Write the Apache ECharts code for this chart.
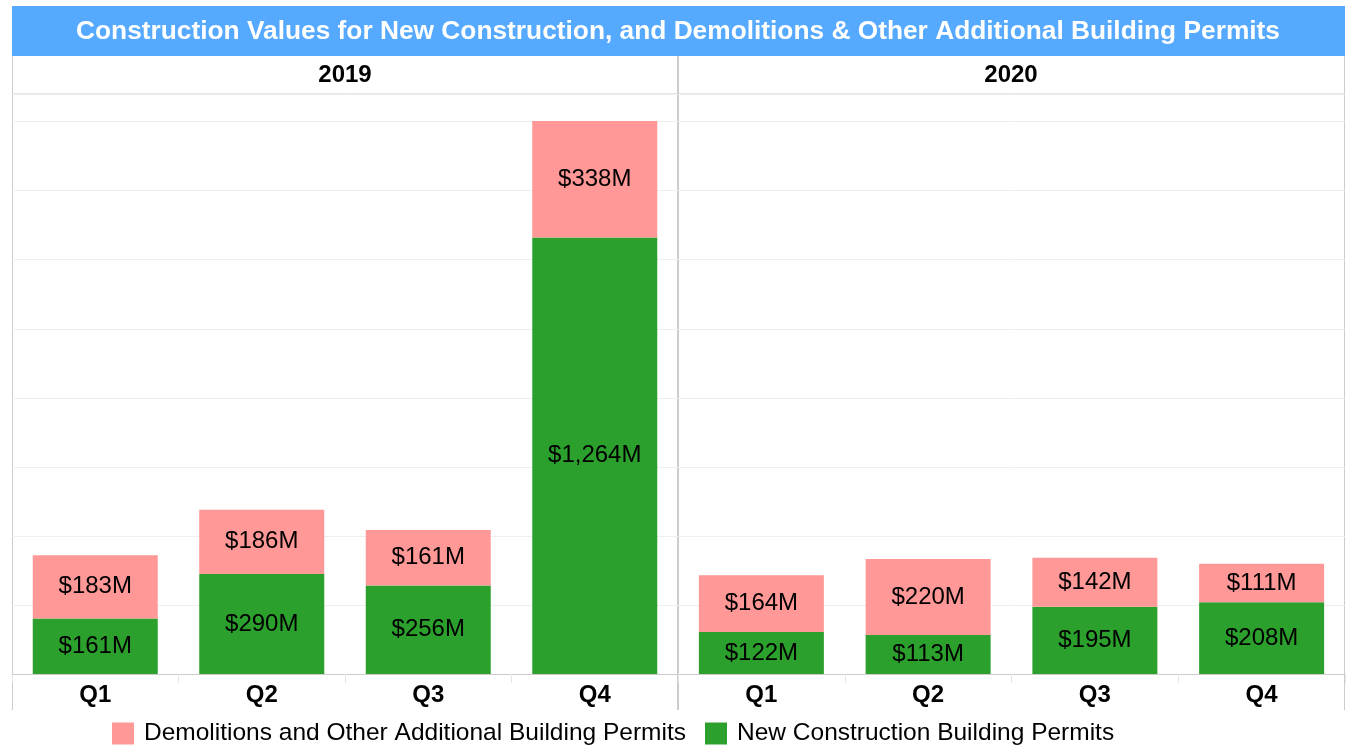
<!DOCTYPE html>
<html>
<head>
<meta charset="utf-8">
<title>Construction Values</title>
<script src="https://cdn.jsdelivr.net/npm/echarts@6/dist/echarts.min.js"></script>
<style>
  html, body { margin: 0; padding: 0; background: #fff; }
  #chart { width: 1349px; height: 748px; }
</style>
</head>
<body>
<div id="chart"></div>
<script>
const FONT = "'Liberation Sans', Arial, sans-serif";

const quarters = ["Q1", "Q2", "Q3", "Q4"];
const years = ["2019", "2020"];
const newConstruction2019 = [161, 290, 256, 1264];
const demolitions2019 = [183, 186, 161, 338];
const newConstruction2020 = [122, 113, 195, 208];
const demolitions2020 = [164, 220, 142, 111];

const NEW_NAME = "New Construction Building Permits";
const DEMO_NAME = "Demolitions and Other Additional Building Permits";
const GREEN = "#2ca02c";
const PINK = "#ff9896";
const LINE = "#cccccc";

const fmtMoney = (p) => "$" + p.value.toLocaleString("en-US") + "M";

const barLabel = {
  show: true,
  position: "inside",
  color: "#000",
  fontFamily: FONT,
  fontSize: 24,
  formatter: fmtMoney,
};

const makeX = (gridIndex) => ({
  type: "category",
  gridIndex: gridIndex,
  data: quarters,
  axisLine: { lineStyle: { color: LINE, width: 1 } },
  axisTick: { show: true, length: 9, lineStyle: { color: "#e6e6e6" } },
  axisLabel: {
    color: "#000",
    fontFamily: FONT,
    fontSize: 24,
    fontWeight: "bold",
    margin: 9,
  },
});

const makeY = (gridIndex) => ({
  type: "value",
  gridIndex: gridIndex,
  min: 0,
  max: 1680,
  interval: 200,
  axisLabel: { show: false },
  axisLine: { show: false },
  axisTick: { show: false },
  splitLine: { lineStyle: { color: "#eeeeee", width: 1 } },
});

const makeBar = (name, data, idx, stack, color) => ({
  name: name,
  type: "bar",
  xAxisIndex: idx,
  yAxisIndex: idx,
  stack: stack,
  data: data,
  barWidth: 125,
  itemStyle: { color: color },
  label: barLabel,
  emphasis: { disabled: true },
});

const chart = echarts.init(document.getElementById("chart"));

const option = {
  animation: false,
  backgroundColor: "#fff",
  title: [
    {
      text: "Construction Values for New Construction, and Demolitions & Other Additional Building Permits",
      left: 678,
      top: 18,
      textAlign: "center",
      padding: 0,
      textStyle: { color: "#fff", fontFamily: FONT, fontSize: 26.3, fontWeight: "bold", lineHeight: 28 },
    },
    {
      text: years[0],
      left: 345,
      top: 63,
      textAlign: "center",
      padding: 0,
      textStyle: { color: "#000", fontFamily: FONT, fontSize: 24, fontWeight: "bold" },
    },
    {
      text: years[1],
      left: 1011,
      top: 63,
      textAlign: "center",
      padding: 0,
      textStyle: { color: "#000", fontFamily: FONT, fontSize: 24, fontWeight: "bold" },
    },
  ],
  legend: {
    data: [DEMO_NAME, NEW_NAME],
    left: 112,
    top: 721,
    padding: 0,
    icon: "rect",
    itemWidth: 22,
    itemHeight: 22,
    itemGap: 19,
    selectedMode: false,
    textStyle: {
      color: "#000",
      fontFamily: FONT,
      fontSize: 24.5,
      padding: [0, 0, 0, 5],
    },
  },
  grid: [
    { left: 12, top: 94, width: 666, height: 580 },
    { left: 678, top: 94, width: 667, height: 580 },
  ],
  xAxis: [makeX(0), makeX(1)],
  yAxis: [makeY(0), makeY(1)],
  series: [
    makeBar(NEW_NAME, newConstruction2019, 0, "y2019", GREEN),
    makeBar(DEMO_NAME, demolitions2019, 0, "y2019", PINK),
    makeBar(NEW_NAME, newConstruction2020, 1, "y2020", GREEN),
    makeBar(DEMO_NAME, demolitions2020, 1, "y2020", PINK),
  ],
  graphic: [
    // title band
    {
      type: "rect",
      z: -1,
      shape: { x: 12, y: 6, width: 1333, height: 50 },
      style: { fill: "#55a9ff" },
    },
    // panel frame
    {
      type: "line",
      shape: { x1: 12, y1: 94, x2: 1345, y2: 94 },
      style: { stroke: LINE, lineWidth: 1 },
    },
    {
      type: "line",
      shape: { x1: 12.5, y1: 56, x2: 12.5, y2: 710 },
      style: { stroke: LINE, lineWidth: 1 },
    },
    {
      type: "line",
      shape: { x1: 678, y1: 56, x2: 678, y2: 710 },
      style: { stroke: LINE, lineWidth: 2 },
    },
    {
      type: "line",
      shape: { x1: 1344.5, y1: 56, x2: 1344.5, y2: 710 },
      style: { stroke: LINE, lineWidth: 1 },
    },
  ],
};

chart.setOption(option);

window.addEventListener("resize", () => chart.resize());
</script>
</body>
</html>
